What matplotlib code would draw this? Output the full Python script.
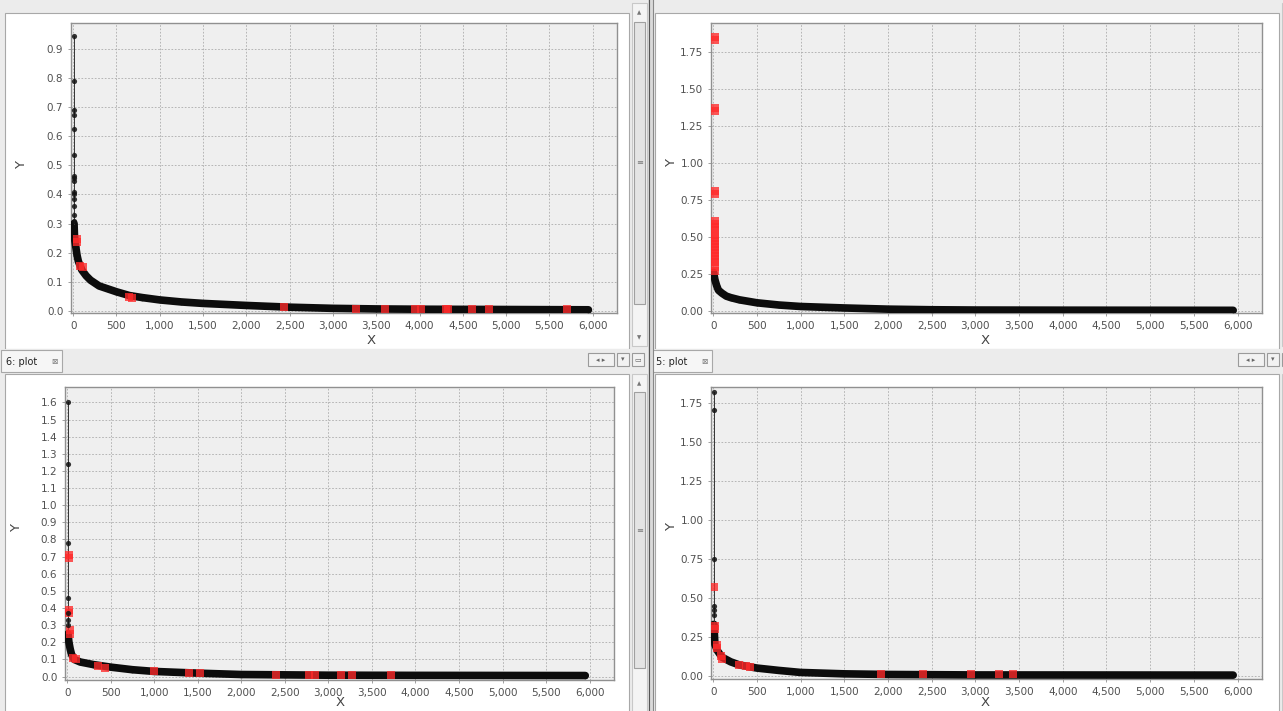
import matplotlib
matplotlib.use("Agg")
import matplotlib.pyplot as plt
from matplotlib.patches import Rectangle
from matplotlib.ticker import FuncFormatter, MultipleLocator

W, H = 1283, 711

# ---- data ----
# plot 1 (top left)
curve1_x = [10, 15, 20, 30, 45, 60, 80, 100, 150, 200, 300, 400, 500, 650, 800, 1000,
            1250, 1500, 2000, 2500, 3000, 3500, 4000, 5000, 5950]
curve1_y = [0.30, 0.26, 0.24, 0.22, 0.19, 0.17, 0.155, 0.14, 0.12, 0.105, 0.085, 0.075,
            0.065, 0.052, 0.045, 0.037, 0.030, 0.025, 0.018, 0.012, 0.008, 0.006, 0.005,
            0.004, 0.003]
spike1_x = [8, 8, 9, 9, 10, 10, 10, 11, 11, 12, 12, 12, 13, 13, 14]
spike1_y = [0.945, 0.79, 0.69, 0.675, 0.625, 0.535, 0.465, 0.455, 0.445, 0.41, 0.40,
            0.385, 0.36, 0.33, 0.31]
red1_x = [40, 45, 80, 110, 650, 680, 2430, 3270, 3600, 3950, 4020, 4300, 4330, 4600,
          4800, 5700]
red1_y = [0.245, 0.235, 0.155, 0.15, 0.048, 0.045, 0.012, 0.006, 0.006, 0.006, 0.006,
          0.006, 0.006, 0.006, 0.006, 0.006]

# plot 2 (top right)
curve2_x = [5, 20, 40, 60, 100, 150, 200, 300, 500, 750, 1000, 1500, 2000, 2500, 3000,
            4000, 5950]
curve2_y = [0.26, 0.21, 0.17, 0.14, 0.12, 0.10, 0.09, 0.075, 0.055, 0.04, 0.03, 0.02,
            0.012, 0.008, 0.006, 0.005, 0.004]
red2_x = [25, 25, 25, 25, 25, 25, 25, 25, 25, 25, 25, 25, 25, 25, 25, 25, 25, 25, 25,
          25, 25, 25]
red2_y = [1.85, 1.83, 1.37, 1.35, 0.81, 0.79, 0.61, 0.59, 0.57, 0.55, 0.51, 0.49, 0.47,
          0.45, 0.43, 0.41, 0.39, 0.37, 0.35, 0.33, 0.30, 0.27]

# plot 6 (bottom left)
curve3_x = [10, 20, 35, 50, 80, 150, 300, 500, 750, 1000, 1500, 2000, 2500, 3000, 4000,
            5950]
curve3_y = [0.25, 0.20, 0.16, 0.13, 0.10, 0.085, 0.07, 0.055, 0.04, 0.03, 0.02, 0.012,
            0.010, 0.008, 0.007, 0.006]
spike3_x = [8, 8, 9, 10, 10, 11, 12]
spike3_y = [1.60, 1.24, 0.78, 0.46, 0.37, 0.33, 0.30]
red3_x = [25, 25, 25, 25, 30, 30, 70, 100, 350, 430, 1000, 1400, 1530, 2400, 2780, 2850,
          3150, 3270, 3720]
red3_y = [0.71, 0.69, 0.39, 0.37, 0.27, 0.25, 0.11, 0.10, 0.06, 0.05, 0.03, 0.02, 0.018,
          0.012, 0.012, 0.012, 0.012, 0.012, 0.012]

# plot 5 (bottom right)
curve4_x = [8, 20, 50, 100, 200, 300, 500, 750, 1000, 1500, 2000, 3000, 5950]
curve4_y = [0.33, 0.20, 0.16, 0.12, 0.09, 0.07, 0.05, 0.035, 0.022, 0.013, 0.009, 0.006,
            0.005]
spike4_x = [8, 8, 9, 10, 10, 11]
spike4_y = [1.82, 1.70, 0.75, 0.45, 0.42, 0.39]
red4_x = [15, 20, 20, 40, 45, 90, 100, 300, 380, 420, 1920, 2400, 2950, 3270, 3430]
red4_y = [0.57, 0.32, 0.30, 0.20, 0.18, 0.13, 0.11, 0.07, 0.065, 0.06, 0.012, 0.012,
          0.012, 0.012, 0.012]

fig = plt.figure(figsize=(W / 100, H / 100), dpi=100)
fig.patch.set_facecolor("#ECECEC")


def rect(x0, y0, x1, y1, fc, ec="none", lw=0.8, z=0):
    fig.patches.append(Rectangle((x0 / W, 1 - y1 / H), (x1 - x0) / W, (y1 - y0) / H,
                                 transform=fig.transFigure, facecolor=fc, edgecolor=ec,
                                 linewidth=lw, zorder=z))


def txt(x, y, s, **kw):
    fig.text(x / W, 1 - y / H, s, **kw)


# ---- window chrome ----
for ox in (0, 650):
    right = ox > 0
    # chart areas
    rect(ox + 5, 13, ox + 629, 349, "white", "#A8A8A8")
    rect(ox + 5, 374, ox + 629, 712, "white", "#A8A8A8")
    # scrollbars
    for y0, y1, t0, t1 in ((3, 346, 22, 304), (374, 712, 392, 668)):
        rect(ox + 632, y0, ox + 647, y1, "#F4F4F4", "#C8C8C8")
        rect(ox + 634, t0, ox + 645, t1, "#E4E4E4", "#A0A0A0")
        if not right:
            txt(ox + 639, y0 + 10, "▲", fontsize=4, color="#777", ha="center",
                va="center")
            txt(ox + 639.5, (t0 + t1) / 2, "≡", fontsize=6, color="#777", ha="center",
                va="center")
            if y1 < 700:
                txt(ox + 639, y1 - 8, "▼", fontsize=4, color="#777", ha="center",
                    va="center")
    # tab bar
    rect(ox + 0, 349, ox + 648, 372, "#ECECEC")
    rect(ox + 1, 350, ox + 62, 372, "#F6F6F6", "#A8A8A8")
    txt(ox + 6, 362, ("6" if ox == 0 else "5") + ": plot", fontsize=7, color="#222",
        va="center")
    txt(ox + 54, 362, "⊠", fontsize=5.5, color="#777", ha="center", va="center")
    for bx0, bx1, s in ((588, 614, "◂ ▸"), (617, 629, "▾"), (632, 644, "▭")):
        rect(ox + bx0, 353, ox + bx1, 366, "#F2F2F2", "#9A9A9A")
        if not (right and bx0 == 632):
            txt(ox + (bx0 + bx1) / 2, 359.5, s, fontsize=5, color="#666", ha="center",
                va="center")

# divider between left and right
rect(648, 0, 653, 712, "#DADADA")
fig.lines.append(plt.Line2D([649 / W, 649 / W], [0, 1], color="#555", lw=0.8,
                            transform=fig.transFigure))
fig.lines.append(plt.Line2D([653 / W, 653 / W], [0, 1], color="#888", lw=0.8,
                            transform=fig.transFigure))


def make_plot(l, t, r, b, ylim, ystep, yfmt, curve_x, curve_y, spike_x, spike_y,
              red_x, red_y, xlab_pos, ylab_pos):
    ax = fig.add_axes([l / W, 1 - b / H, (r - l) / W, (b - t) / H])
    ax.set_zorder(5)
    ax.set_facecolor("#EFEFEF")
    ax.set_xlim(-25, 6280)
    ax.set_ylim(*ylim)
    ax.xaxis.set_major_locator(MultipleLocator(500))
    ax.yaxis.set_major_locator(MultipleLocator(ystep))
    ax.xaxis.set_major_formatter(FuncFormatter(lambda v, p: f"{v:,.0f}"))
    ax.yaxis.set_major_formatter(FuncFormatter(lambda v, p: yfmt.format(v)))
    ax.grid(True, color="#ABABAB", linestyle=(0, (2, 2)), linewidth=0.6)
    ax.set_axisbelow(True)
    for sp in ax.spines.values():
        sp.set_color("#909090")
        sp.set_linewidth(1.0)
    ax.tick_params(length=2.5, width=0.6, color="#909090", labelsize=7.5,
                   labelcolor="#505050", pad=3)

    ax.plot(curve_x, curve_y, color="#0C0C0C", lw=5.5, solid_capstyle="round",
            solid_joinstyle="round", zorder=3)
    ax.scatter(curve_x, curve_y, s=16, color="#0C0C0C", linewidths=0, zorder=3)
    # red squares sit on top of the curve but keep it showing through
    ax.scatter(red_x, red_y, marker="s", s=36, color="#FF2A2A", alpha=0.78,
               linewidths=0, zorder=4)
    if spike_x:
        ax.scatter(spike_x, spike_y, s=14, color="#111111", alpha=0.85,
                   linewidths=0, zorder=5)
        ax.plot([spike_x[0], spike_x[0]], [curve_y[0], spike_y[0]],
                color="#333", lw=0.7, zorder=3)

    txt(xlab_pos[0], xlab_pos[1], "X", fontsize=9.5, color="#444", ha="center",
        va="center")
    txt(ylab_pos[0], ylab_pos[1], "Y", fontsize=9.5, color="#444", ha="center",
        va="center", rotation=90)
    return ax


make_plot(71, 23, 617, 313, (-0.008, 0.99), 0.1, "{:.1f}",
          curve1_x, curve1_y, spike1_x, spike1_y, red1_x, red1_y, (371, 340), (22, 165))
make_plot(711, 23, 1262, 313, (-0.014, 1.945), 0.25, "{:.2f}",
          curve2_x, curve2_y, [], [], red2_x, red2_y, (985, 340), (672, 163))
make_plot(65, 387, 614, 680, (-0.02, 1.69), 0.1, "{:.1f}",
          curve3_x, curve3_y, spike3_x, spike3_y, red3_x, red3_y, (340, 703), (17, 528))
make_plot(711, 387, 1262, 679, (-0.02, 1.85), 0.25, "{:.2f}",
          curve4_x, curve4_y, spike4_x, spike4_y, red4_x, red4_y, (985, 703), (672, 527))

fig.savefig("out.png", dpi=100, facecolor=fig.get_facecolor())
